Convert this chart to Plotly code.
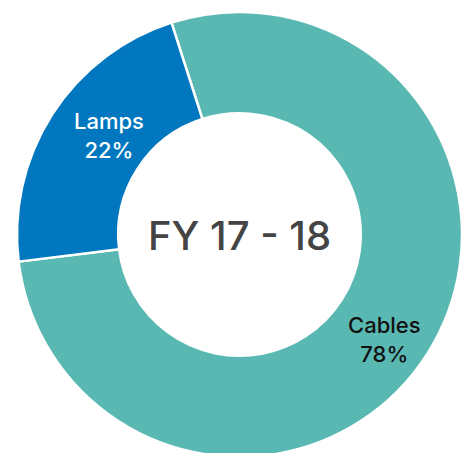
import plotly.graph_objects as go

categories = ["Cables", "Lamps"]
shares = [78, 22]
center_title = "FY 17 - 18"
colors = ["#5AB8B3", "#0077BE"]

W, H = 470, 460
OFF = 8  # default page body margin
cx, cy, r = 239.5 - OFF, 234.5 - OFF, 222.5

fig = go.Figure(go.Pie(
    labels=categories,
    values=shares,
    hole=0.545,
    sort=False,
    direction="clockwise",
    rotation=-17.8,
    marker=dict(colors=colors, line=dict(color="white", width=2.5)),
    textinfo="none",
    hoverinfo="label+percent",
    domain=dict(x=[(cx - r) / W, (cx + r) / W],
                y=[(H - cy - r) / H, (H - cy + r) / H]),
    showlegend=False,
))

label_pos = {"Lamps": (109 - OFF, 135 - OFF, "white"),
             "Cables": (384 - OFF, 339 - OFF, "#111111")}
for cat, val in zip(categories, shares):
    px, py, col = label_pos[cat]
    fig.add_annotation(x=px / W, y=1 - py / H, xref="paper", yref="paper",
                       xanchor="center", yanchor="middle",
                       text=f"{cat}<br>{val}%", showarrow=False,
                       font=dict(family="Inter", size=22, color=col, weight=500),
                       align="center")

fig.add_annotation(x=cx / W, y=1 - (cy + 1) / H, xref="paper", yref="paper",
                   xanchor="center", yanchor="middle",
                   text=center_title, showarrow=False,
                   font=dict(family="Inter", size=40, color="#444444", weight=500))

fig.update_layout(width=W, height=H, margin=dict(l=0, r=0, t=0, b=0),
                  paper_bgcolor="white", plot_bgcolor="white")
fig.write_html("out.html")
